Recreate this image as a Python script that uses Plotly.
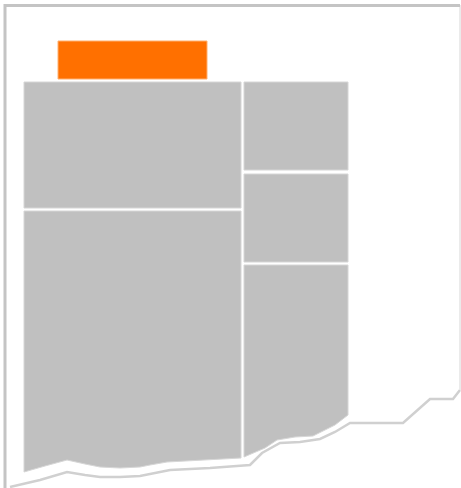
import plotly.graph_objects as go

# Document outline pieces
page_x = [5, 5, 460, 460, 453, 430, 403, 350, 335, 320, 300, 280, 262, 250, 210, 170, 150, 140, 120, 100, 85, 67, 40, 10, 5]
page_y = [488, 5, 5, 390, 399, 399, 423, 423, 432, 439, 442, 443, 453, 465, 468, 470, 474, 476, 477, 477, 475, 472, 480, 487, 488]

edge_x = [5, 5, 460]
edge_y = [488, 5.5, 5.5]
side_x = [460, 460]
side_y = [5, 390]
tear_x = page_x[3:24]
tear_y = page_y[3:24]

# Header bar
header_x = [58, 207, 207, 58, 58]
header_y = [41, 41, 79, 79, 41]

# Treemap tiles
tiles = {
    "A": ([24, 241, 241, 24, 24], [82, 82, 208, 208, 82]),
    "B": ([24, 241, 241, 200, 167, 150, 140, 120, 100, 85, 67, 45, 24, 24],
          [211, 211, 458, 460, 462, 465, 467, 468, 467, 464, 460, 466, 472, 211]),
    "C": ([244, 348, 348, 244, 244], [82, 82, 170, 170, 82]),
    "D": ([244, 348, 348, 244, 244], [174, 174, 262, 262, 174]),
    "E": ([244, 348, 348, 335, 313, 295, 277, 265, 244, 244],
          [265, 265, 415, 425, 436, 437, 440, 448, 457, 265]),
}

fig = go.Figure()
fig.add_trace(go.Scatter(x=page_x, y=page_y, mode="lines", fill="toself",
                         fillcolor="white", line=dict(color="rgba(0,0,0,0)", width=0),
                         hoverinfo="skip"))
fig.add_trace(go.Scatter(x=tear_x, y=tear_y, mode="lines",
                         line=dict(color="#d0d0d0", width=2.5), hoverinfo="skip"))
fig.add_trace(go.Scatter(x=side_x, y=side_y, mode="lines",
                         line=dict(color="#e4e4e4", width=1.5), hoverinfo="skip"))
fig.add_trace(go.Scatter(x=edge_x, y=edge_y, mode="lines",
                         line=dict(color="#c4c4c4", width=3), hoverinfo="skip"))
fig.add_trace(go.Scatter(x=header_x, y=header_y, mode="lines", fill="toself",
                         fillcolor="#ff7000", line=dict(color="#ffb070", width=1),
                         hoverinfo="skip"))
for name, (tx, ty) in tiles.items():
    fig.add_trace(go.Scatter(x=tx, y=ty, mode="lines", fill="toself",
                             fillcolor="#c0c0c0", line=dict(color="#d6d6d6", width=1),
                             name=name, hoverinfo="skip"))

fig.update_layout(
    width=461, height=488,
    margin=dict(l=0, r=0, t=0, b=0),
    paper_bgcolor="white", plot_bgcolor="white",
    showlegend=False,
    xaxis=dict(range=[0, 461], visible=False, fixedrange=True),
    yaxis=dict(range=[488, 0], visible=False, fixedrange=True),
)
fig.write_html("out.html", config={"displayModeBar": False},
               post_script="document.body.style.margin='0';document.body.style.overflow='hidden';")
